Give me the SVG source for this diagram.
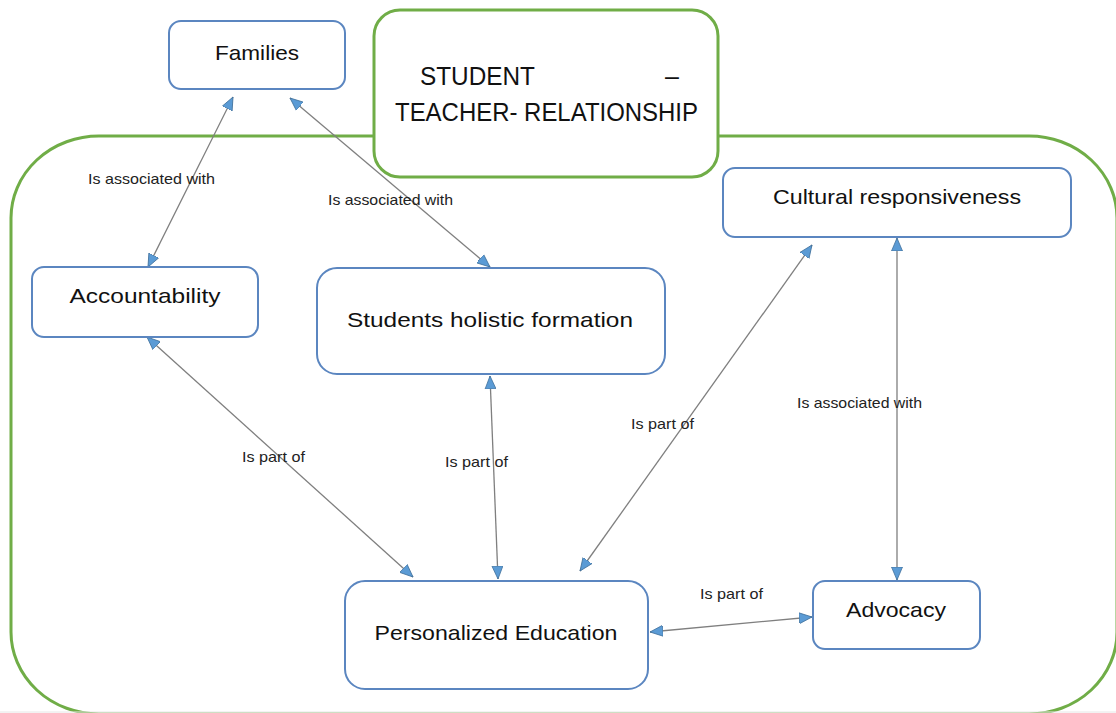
<svg xmlns="http://www.w3.org/2000/svg" width="1116" height="713" viewBox="0 0 1116 713">
<style>
.node rect{fill:#ffffff;stroke:#5b86c0;stroke-width:2}
.node text{font-family:"Liberation Sans",Arial,sans-serif;font-size:21px;fill:#111;text-anchor:middle}
.lbl{font-family:"Liberation Sans",Arial,sans-serif;font-size:15px;fill:#222}
.conn line{stroke:#7f7f7f;stroke-width:1.3;marker-start:url(#ah);marker-end:url(#ah)}
.title text{font-family:"Liberation Sans",Arial,sans-serif;font-size:25px;fill:#111}
</style>
<defs>
<marker id="ah" markerUnits="userSpaceOnUse" markerWidth="14" markerHeight="12" refX="13" refY="6" orient="auto-start-reverse">
<path d="M0,0.5 L13,6 L0,11.5 z" fill="#5b9bd5" stroke="#41719c" stroke-width="0.8"/>
</marker>
</defs>
<rect x="0" y="0" width="1116" height="713" fill="#ffffff"/>
<g id="frame">
<rect x="11" y="136" width="1106" height="578" rx="88" ry="82" fill="none" stroke="#70ad47" stroke-width="3"/>
<line x1="0" y1="712" x2="1116" y2="712" stroke="#e6e6e6" stroke-width="1"/>
</g>
<g id="title" class="title">
<rect x="374" y="10" width="344" height="167" rx="26" fill="#ffffff" stroke="#70ad47" stroke-width="3"/>
<text x="420" y="85" textLength="115" lengthAdjust="spacingAndGlyphs">STUDENT</text>
<text x="665" y="85">–</text>
<text x="395" y="121" textLength="303" lengthAdjust="spacingAndGlyphs">TEACHER- RELATIONSHIP</text>
</g>
<g id="connectors" class="conn">
<line x1="233" y1="97" x2="148" y2="267"/>
<line x1="290" y1="98" x2="490" y2="267"/>
<line x1="147" y1="337" x2="413" y2="577"/>
<line x1="490" y1="376" x2="498" y2="579"/>
<line x1="812" y1="245" x2="580" y2="571"/>
<line x1="897" y1="238" x2="897" y2="580"/>
<line x1="650" y1="632" x2="812" y2="617"/>
</g>
<g id="labels">
<text class="lbl" x="88" y="184" textLength="127" lengthAdjust="spacingAndGlyphs">Is associated with</text>
<text class="lbl" x="328" y="205" textLength="125" lengthAdjust="spacingAndGlyphs">Is associated with</text>
<text class="lbl" x="242" y="462" textLength="63" lengthAdjust="spacingAndGlyphs">Is part of</text>
<text class="lbl" x="445" y="467" textLength="63" lengthAdjust="spacingAndGlyphs">Is part of</text>
<text class="lbl" x="631" y="429" textLength="63" lengthAdjust="spacingAndGlyphs">Is part of</text>
<text class="lbl" x="797" y="408" textLength="125" lengthAdjust="spacingAndGlyphs">Is associated with</text>
<text class="lbl" x="700" y="599" textLength="63" lengthAdjust="spacingAndGlyphs">Is part of</text>
</g>
<g id="families" class="node">
<rect x="169" y="21" width="176" height="68" rx="12"/>
<text x="257" y="60" textLength="84" lengthAdjust="spacingAndGlyphs">Families</text>
</g>
<g id="accountability" class="node">
<rect x="32" y="267" width="226" height="70" rx="12"/>
<text x="145" y="303" textLength="151" lengthAdjust="spacingAndGlyphs">Accountability</text>
</g>
<g id="holistic" class="node">
<rect x="317" y="268" width="348" height="106" rx="20"/>
<text x="490" y="327" textLength="286" lengthAdjust="spacingAndGlyphs">Students holistic formation</text>
</g>
<g id="cultural" class="node">
<rect x="723" y="168" width="348" height="69" rx="12"/>
<text x="897" y="204" textLength="248" lengthAdjust="spacingAndGlyphs">Cultural responsiveness</text>
</g>
<g id="personalized" class="node">
<rect x="345" y="581" width="303" height="108" rx="20"/>
<text x="496" y="640" textLength="243" lengthAdjust="spacingAndGlyphs">Personalized Education</text>
</g>
<g id="advocacy" class="node">
<rect x="813" y="581" width="167" height="68" rx="12"/>
<text x="896" y="617" textLength="100" lengthAdjust="spacingAndGlyphs">Advocacy</text>
</g>
</svg>
